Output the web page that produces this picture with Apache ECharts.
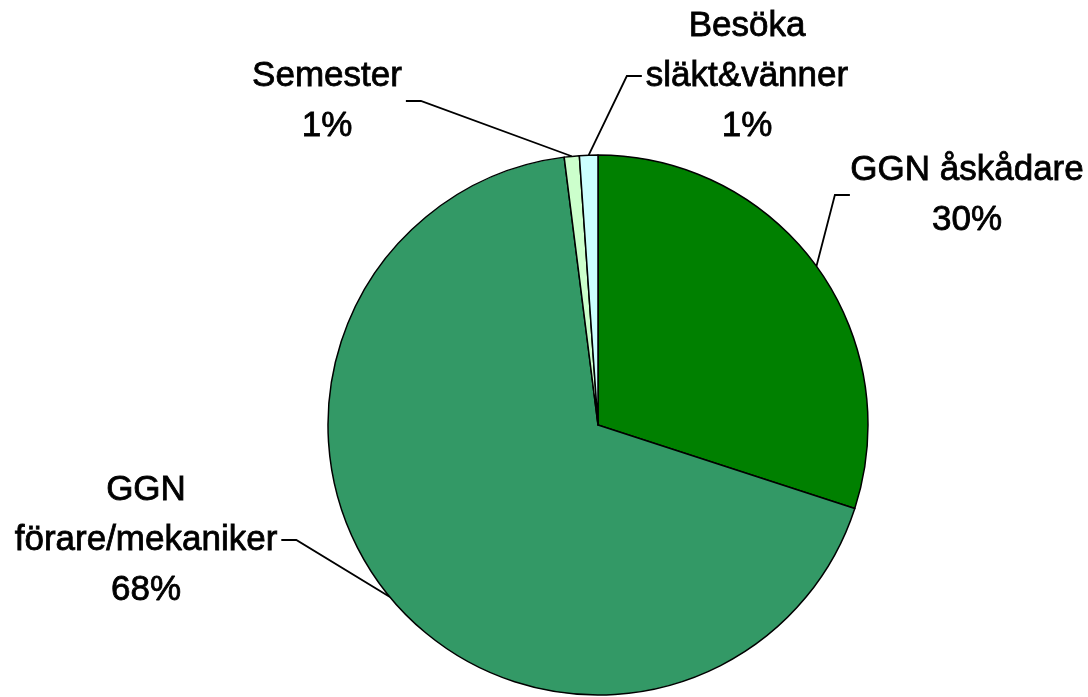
<!DOCTYPE html>
<html>
<head>
<meta charset="utf-8">
<script src="https://cdn.jsdelivr.net/npm/echarts@6/dist/echarts.min.js"></script>
<style>
  html, body { margin: 0; padding: 0; background: #fff; }
  #main { width: 1088px; height: 697px; }
</style>
</head>
<body>
<div id="main"></div>
<script>
// andelar per kategori (läst ur bilden)
var names = ['GGN åskådare', 'GGN\nförare/mekaniker', 'Semester', 'Besöka\nsläkt&vänner'];
var values = [30, 68, 0.9, 1.1];
var colors = ['#008000', '#339966', '#CCFFCC', '#CCFFFF'];

// etikettplacering (mitten av textblocket, px)
var labelPos = [[967, 195], [146, 540], [327, 101], [747, 76]];

var myChart = echarts.init(document.getElementById('main'));

var data = [];
for (var i = 0; i < names.length; i++) {
    data.push({
        name: names[i],
        value: values[i],
        itemStyle: { color: colors[i] }
    });
}

var option = {
    backgroundColor: '#ffffff',
    animation: false,
    series: [{
        type: 'pie',
        center: [598, 425],
        radius: 270,
        startAngle: 90,
        clockwise: true,
        data: data,
        itemStyle: {
            borderColor: '#000',
            borderWidth: 1.5
        },
        label: {
            show: true,
            position: 'outside',
            color: '#000',
            fontFamily: 'Liberation Sans, Arial, sans-serif',
            fontSize: 35,
            lineHeight: 50,
            textBorderColor: '#000',
            textBorderWidth: 0.8,
            align: 'center',
            overflow: 'none',
            padding: [0, 4],
            formatter: function (p) {
                return p.name + '\n' + Math.round(p.percent) + '%';
            }
        },
        labelLine: {
            show: true,
            length: 15,
            length2: 15,
            lineStyle: { color: '#000', width: 1.8 }
        },
        labelLayout: function (params) {
            var pos = labelPos[params.dataIndex];
            return {
                x: pos[0],
                y: pos[1],
                align: 'center',
                verticalAlign: 'middle'
            };
        }
    }]
};

myChart.setOption(option);
</script>
</body>
</html>
